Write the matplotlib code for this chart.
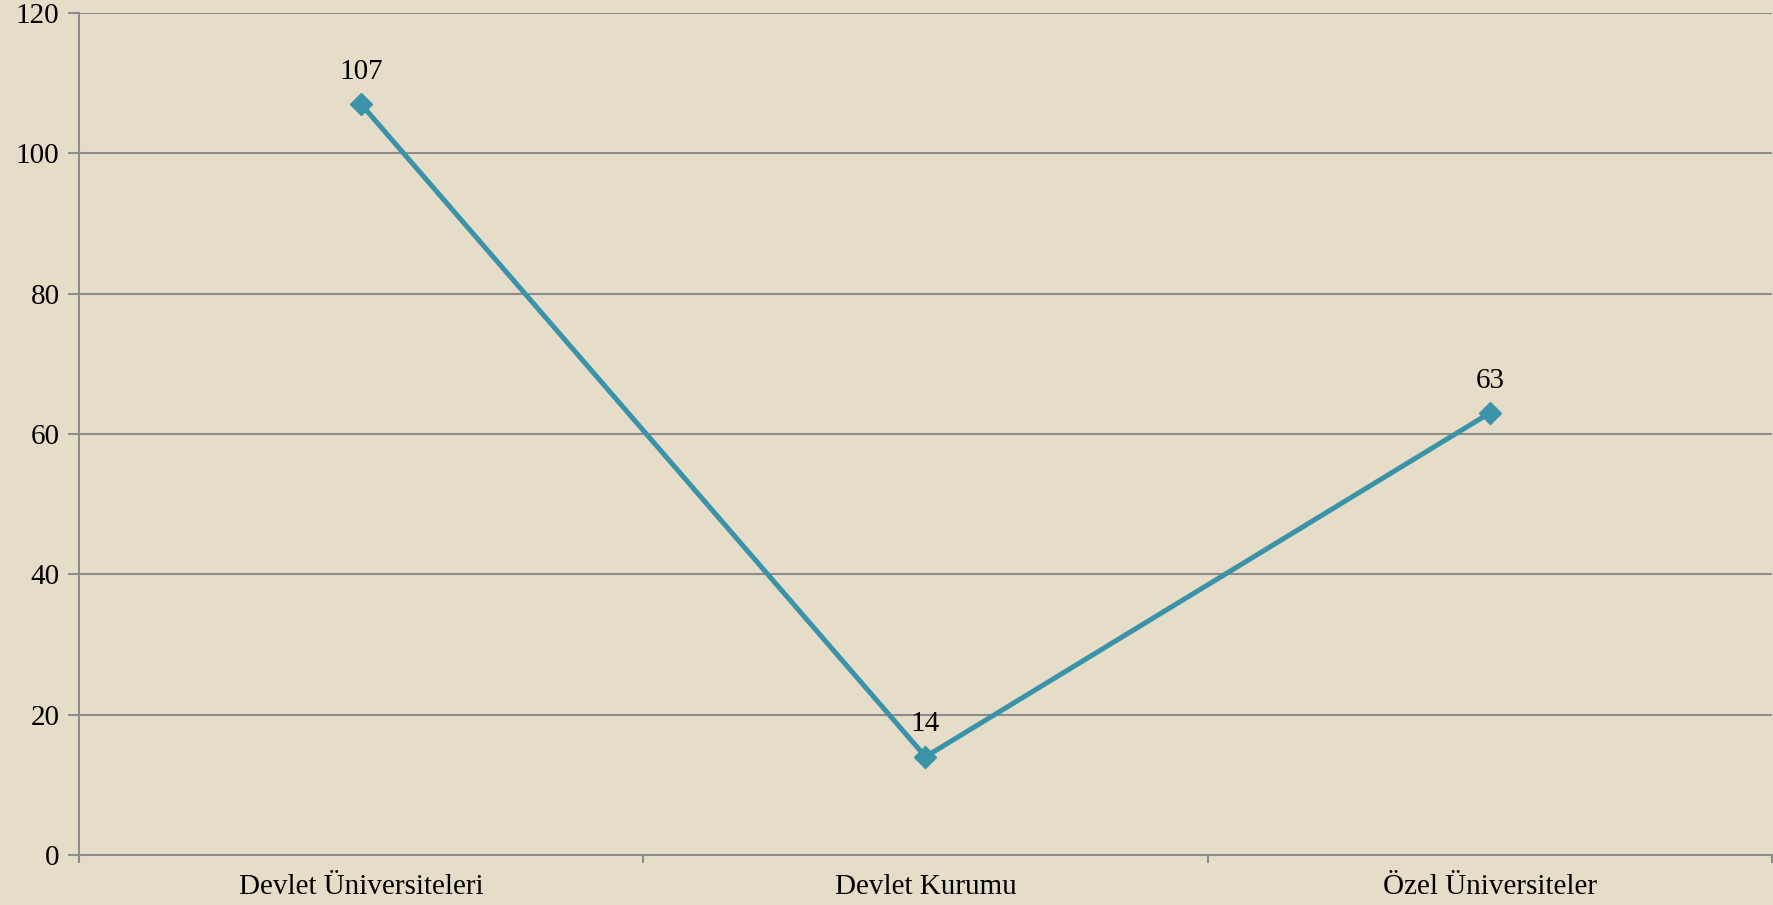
import matplotlib.pyplot as plt

# chart data
categories = ["Devlet Üniversiteleri", "Devlet Kurumu", "Özel Üniversiteler"]
values = [107, 14, 63]
yticks = [0, 20, 40, 60, 80, 100, 120]

bg = "#E5DDC8"
lineColor = "#3A93A8"
gridColor = "#8C8C8C"

plt.rcParams['font.family'] = ['Liberation Serif', 'DejaVu Serif']

fig = plt.figure(figsize=(17.73, 9.05), dpi=100, facecolor=bg)
ax = fig.add_axes([79 / 1773, 1 - 855 / 905, (1772 - 79) / 1773, (855 - 13) / 905])
ax.set_facecolor(bg)

xs = list(range(len(categories)))
ax.plot(xs, values, color=lineColor, linewidth=3.6, marker="D",
        markersize=11, zorder=3, clip_on=False)

for x, v in zip(xs, values):
    ax.annotate(str(v), (x, v), xytext=(0, 14), textcoords="offset points",
                ha="center", va="bottom", fontsize=21, color="black")

ax.set_xlim(-0.5, len(categories) - 0.5)
ax.set_ylim(0, 120)
ax.set_yticks(yticks)
ax.set_yticklabels([str(t) for t in yticks], fontsize=21)

# category labels in the middle, tick marks at boundaries
ax.set_xticks(xs)
ax.set_xticklabels(categories, fontsize=21)
ax.tick_params(axis="x", length=0, pad=14)
ax.set_xticks([i - 0.5 for i in range(len(categories) + 1)], minor=True)
ax.tick_params(axis="x", which="minor", length=6, color=gridColor, width=1.5)
ax.tick_params(axis="y", length=8, color=gridColor, width=1.5, pad=6)

ax.grid(axis="y", color=gridColor, linewidth=1.5)
ax.set_axisbelow(True)
for s in ["top", "right"]:
    ax.spines[s].set_visible(False)
for s in ["left", "bottom"]:
    ax.spines[s].set_color(gridColor)
    ax.spines[s].set_linewidth(1.5)

fig.savefig("out.png", dpi=100, facecolor=bg)
